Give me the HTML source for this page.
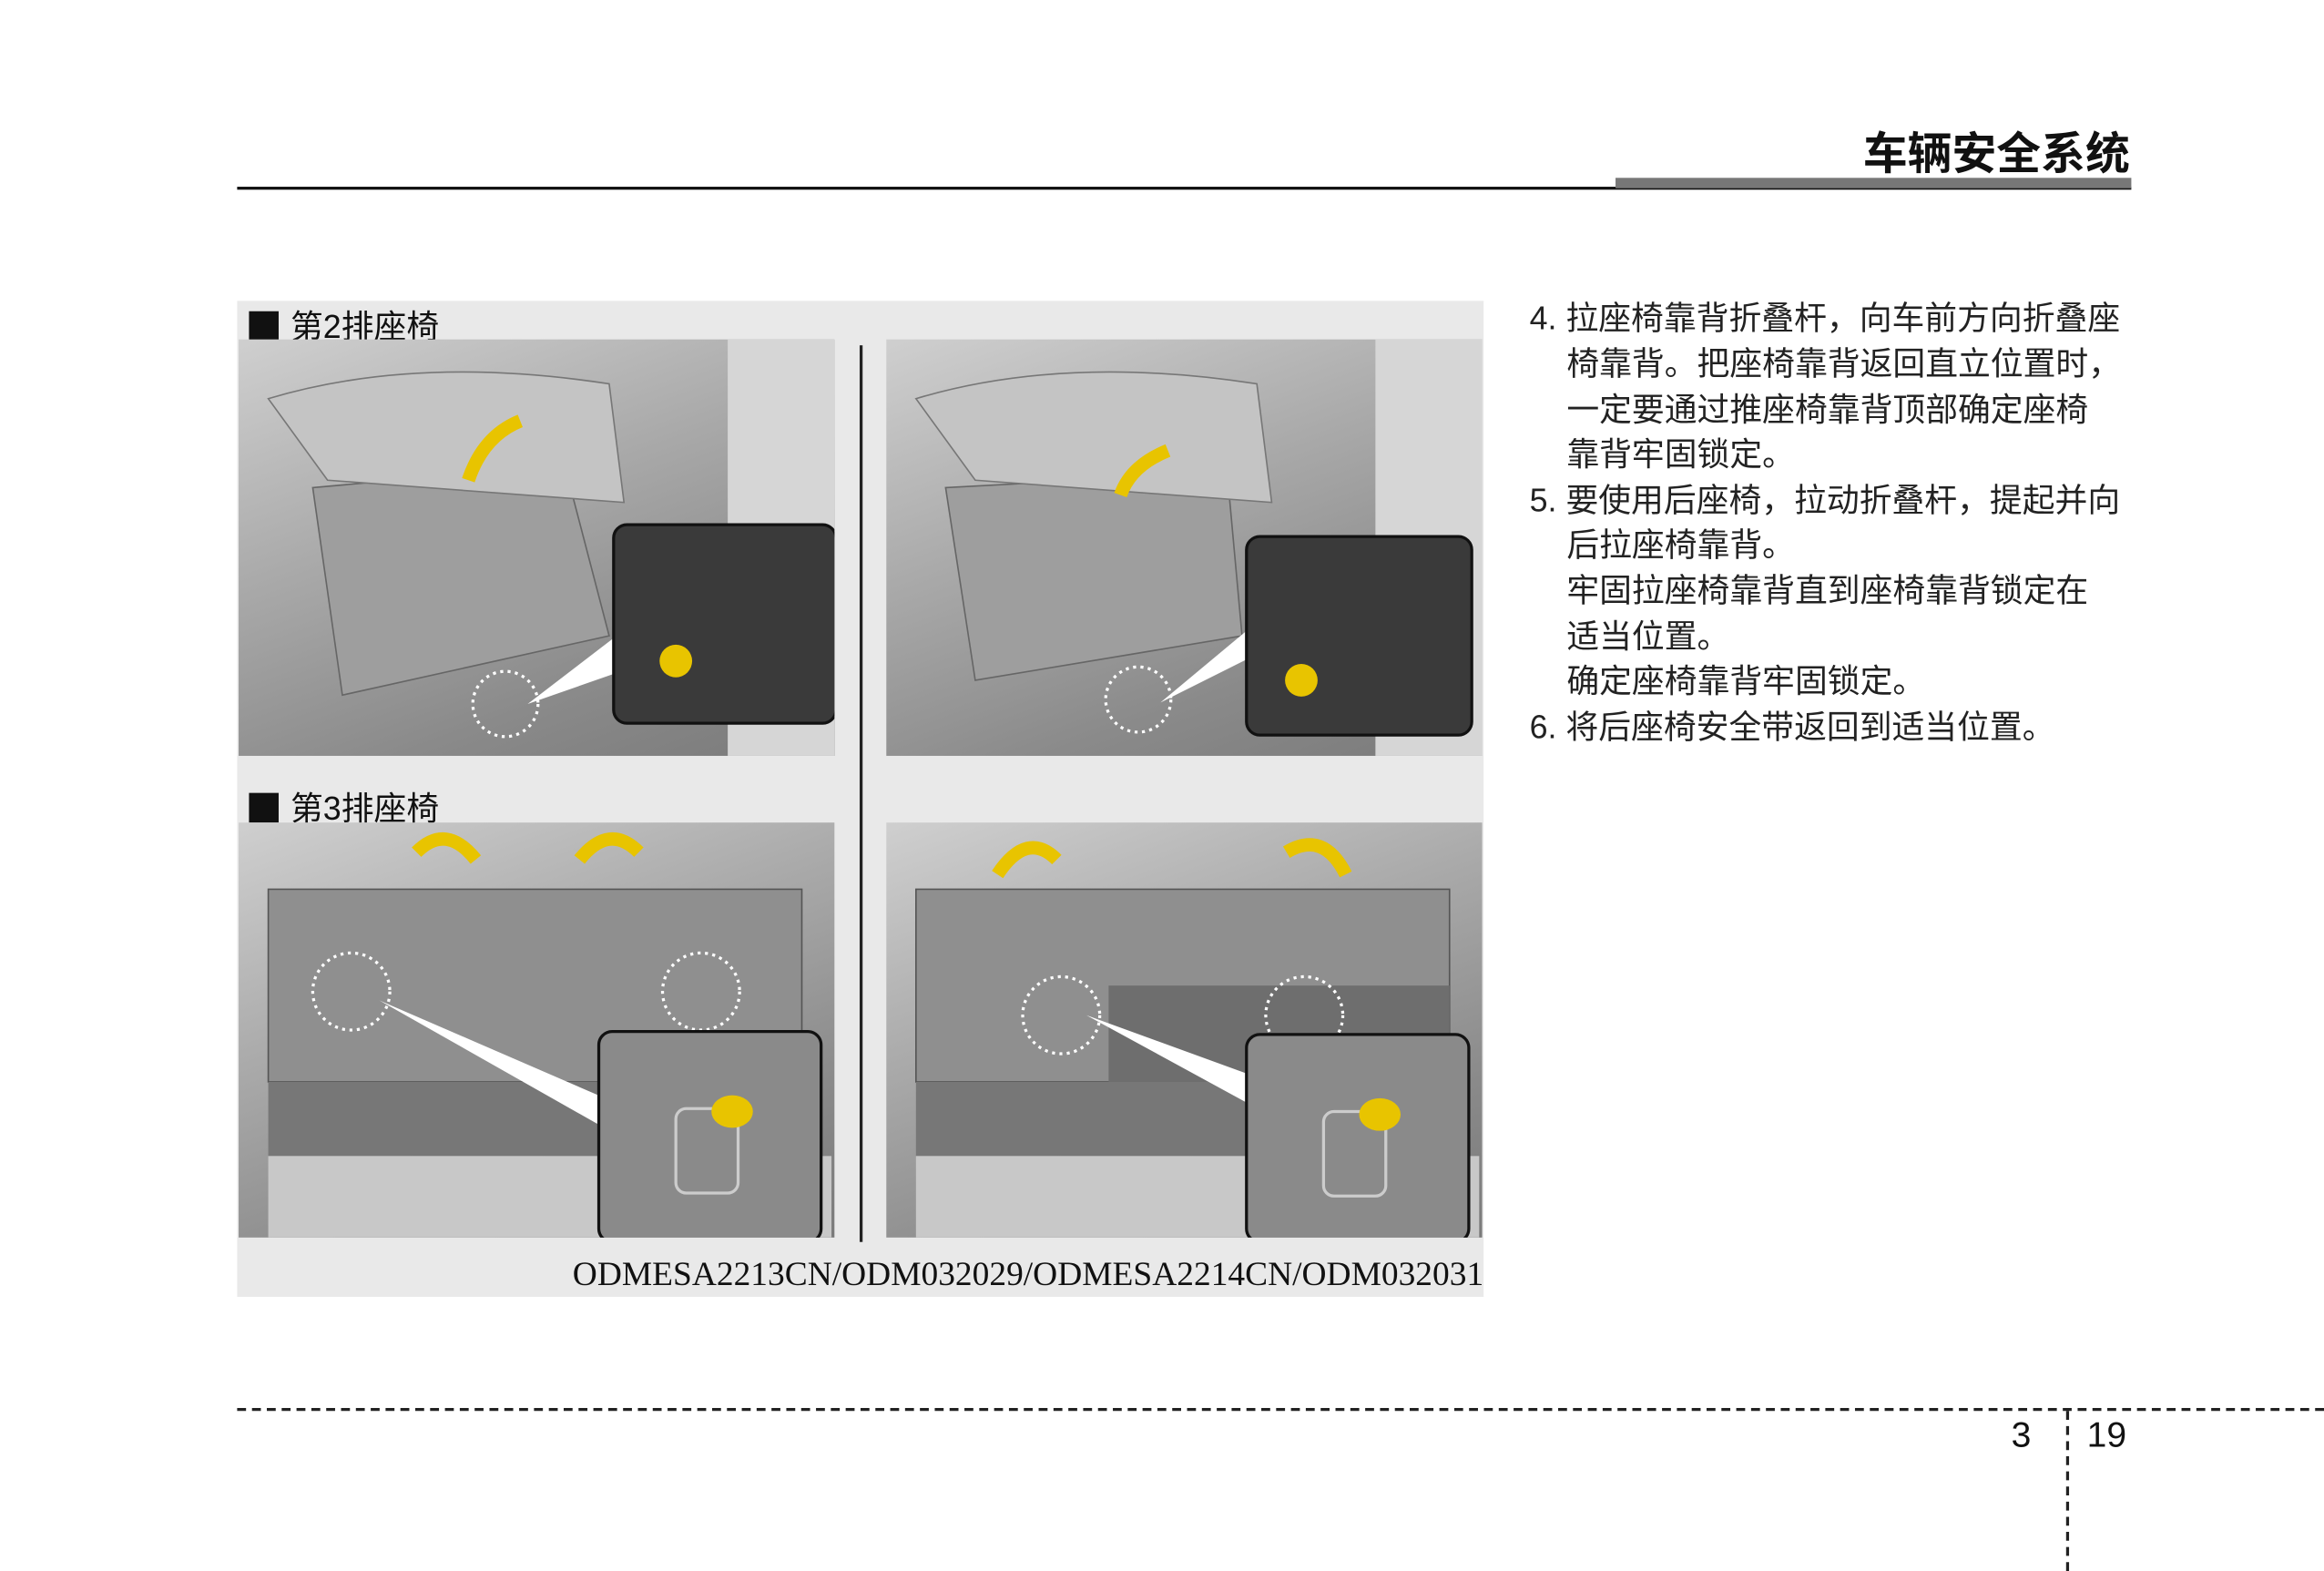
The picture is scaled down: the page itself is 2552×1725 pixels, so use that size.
<!DOCTYPE html>
<html><head><meta charset="utf-8">
<style>
html,body{margin:0;padding:0;background:#fff;width:2552px;height:1725px;overflow:hidden}
#w{position:absolute;left:0;top:0;width:1568px;height:1060px;transform:scale(1.62755,1.62736);transform-origin:0 0;font-family:"Liberation Sans","Noto Sans CJK SC",sans-serif;color:#222}
.a{position:absolute}
.t{position:absolute;left:1032px;font-size:22px;line-height:30.6px;white-space:nowrap;color:#222}
.ph{position:absolute;background:linear-gradient(160deg,#cfcfcf 0%,#a9a9a9 40%,#8a8a8a 75%,#7a7a7a 100%);overflow:hidden}
.ins{position:absolute;background:#3a3a3a;border:2px solid #111;border-radius:10px}
.lab{position:absolute;left:168px;font-size:22px;color:#111;white-space:nowrap}
.sq{display:inline-block;width:20px;height:20px;background:#111;margin-right:8px;vertical-align:-2px}
</style></head><body><div id="w">
<div class="a" style="right:131px;top:79px;font-size:30px;font-weight:bold;color:#111">车辆安全系统</div>
<div class="a" style="left:160px;top:126px;width:1278px;height:2px;background:#111"></div>
<div class="a" style="left:1090px;top:120px;width:348px;height:7px;background:#777"></div>

<div class="a" style="left:160px;top:203px;width:841px;height:672px;background:#e9e9e9"></div>
<div class="lab" style="top:203px"><span class="sq"></span>第2排座椅</div>
<div class="lab" style="top:528px"><span class="sq"></span>第3排座椅</div>
<div class="a" style="left:580px;top:233px;width:2px;height:605px;background:#222"></div>

<!-- top-left -->
<div class="ph" style="left:161px;top:229px;width:402px;height:281px">
 <svg width="402" height="281" style="position:absolute;left:0;top:0">
  <path d="M50 100 L220 85 L250 200 L70 240 Z" fill="#9e9e9e" stroke="#666"/>
  <path d="M20 40 Q120 10 250 30 L260 110 L60 95 Z" fill="#c4c4c4" stroke="#777"/>
  <rect x="330" y="0" width="72" height="281" fill="#d6d6d6"/>
  <circle cx="180" cy="246" r="22" fill="none" stroke="#fff" stroke-width="2" stroke-dasharray="2 3"/>
  <path d="M155 95 Q165 65 190 55" fill="none" stroke="#e8c400" stroke-width="9"/>
  <polygon points="195,246 255,200 255,225" fill="#fff"/>
 </svg>
 <div class="ins" style="left:252px;top:124px;width:148px;height:132px"><div style="position:absolute;left:30px;top:80px;width:22px;height:22px;border-radius:50%;background:#e8c400"></div></div>
</div>
<!-- top-right -->
<div class="ph" style="left:598px;top:229px;width:402px;height:281px">
 <svg width="402" height="281" style="position:absolute;left:0;top:0">
  <path d="M40 100 L230 90 L240 200 L60 230 Z" fill="#9e9e9e" stroke="#666"/>
  <path d="M20 40 Q120 10 250 30 L260 110 L60 95 Z" fill="#c4c4c4" stroke="#777"/>
  <rect x="330" y="0" width="72" height="281" fill="#d6d6d6"/>
  <circle cx="170" cy="243" r="22" fill="none" stroke="#fff" stroke-width="2" stroke-dasharray="2 3"/>
  <path d="M158 105 Q165 85 190 75" fill="none" stroke="#e8c400" stroke-width="9"/>
  <polygon points="185,245 245,195 245,215" fill="#fff"/>
 </svg>
 <div class="ins" style="left:242px;top:132px;width:150px;height:132px"><div style="position:absolute;left:25px;top:85px;width:22px;height:22px;border-radius:50%;background:#e8c400"></div></div>
</div>
<!-- bottom-left -->
<div class="ph" style="left:161px;top:555px;width:402px;height:280px">
 <svg width="402" height="280" style="position:absolute;left:0;top:0">
  <rect x="20" y="45" width="360" height="130" fill="#8f8f8f" stroke="#555"/>
  <rect x="20" y="175" width="370" height="50" fill="#777"/>
  <rect x="20" y="225" width="380" height="55" fill="#c8c8c8"/>
  <circle cx="76" cy="114" r="26" fill="none" stroke="#fff" stroke-width="2" stroke-dasharray="2 3"/>
  <circle cx="312" cy="114" r="26" fill="none" stroke="#fff" stroke-width="2" stroke-dasharray="2 3"/>
  <path d="M120 20 Q140 0 160 25" fill="none" stroke="#e8c400" stroke-width="9"/>
  <path d="M230 25 Q250 0 270 20" fill="none" stroke="#e8c400" stroke-width="9"/>
  <polygon points="95,120 245,185 245,205" fill="#fff"/>
 </svg>
 <div class="ins" style="left:242px;top:140px;width:148px;height:140px;background:#8a8a8a"><div style="position:absolute;left:50px;top:50px;width:40px;height:55px;border:2px solid #ccc;border-radius:8px"></div><div style="position:absolute;left:75px;top:42px;width:28px;height:22px;border-radius:50%;background:#e8c400"></div></div>
</div>
<!-- bottom-right -->
<div class="ph" style="left:598px;top:555px;width:402px;height:280px">
 <svg width="402" height="280" style="position:absolute;left:0;top:0">
  <rect x="20" y="45" width="360" height="130" fill="#8f8f8f" stroke="#555"/>
  <rect x="150" y="110" width="230" height="70" fill="#6e6e6e"/>
  <rect x="20" y="175" width="370" height="50" fill="#777"/>
  <rect x="20" y="225" width="380" height="55" fill="#c8c8c8"/>
  <circle cx="118" cy="130" r="26" fill="none" stroke="#fff" stroke-width="2" stroke-dasharray="2 3"/>
  <circle cx="282" cy="130" r="26" fill="none" stroke="#fff" stroke-width="2" stroke-dasharray="2 3"/>
  <path d="M75 35 Q95 5 115 25" fill="none" stroke="#e8c400" stroke-width="9"/>
  <path d="M270 20 Q295 5 310 35" fill="none" stroke="#e8c400" stroke-width="9"/>
  <polygon points="135,130 245,170 245,190" fill="#fff"/>
 </svg>
 <div class="ins" style="left:242px;top:142px;width:148px;height:138px;background:#8a8a8a"><div style="position:absolute;left:50px;top:50px;width:40px;height:55px;border:2px solid #ccc;border-radius:8px"></div><div style="position:absolute;left:75px;top:42px;width:28px;height:22px;border-radius:50%;background:#e8c400"></div></div>
</div>
<div class="a" style="right:567px;top:847px;font-size:23px;font-family:'Liberation Serif',serif;color:#111;white-space:nowrap">ODMESA2213CN/ODM032029/ODMESA2214CN/ODM032031</div>

<div class="t" style="top:200px">4. 拉座椅靠背折叠杆，向车前方向折叠座</div>
<div class="t" style="top:231px;left:1057px">椅靠背。把座椅靠背返回直立位置时，</div>
<div class="t" style="top:262px;left:1057px">一定要通过推座椅靠背顶部确定座椅</div>
<div class="t" style="top:292px;left:1057px">靠背牢固锁定。</div>
<div class="t" style="top:323px">5. 要使用后座椅，拉动折叠杆，提起并向</div>
<div class="t" style="top:353px;left:1057px">后拉座椅靠背。</div>
<div class="t" style="top:384px;left:1057px">牢固拉座椅靠背直到座椅靠背锁定在</div>
<div class="t" style="top:415px;left:1057px">适当位置。</div>
<div class="t" style="top:445px;left:1057px">确定座椅靠背牢固锁定。</div>
<div class="t" style="top:476px">6. 将后座椅安全带返回到适当位置。</div>

<div class="a" style="left:160px;top:950px;width:1408px;border-top:2px dashed #222"></div>
<div class="a" style="left:1394px;top:952px;height:108px;border-left:2px dashed #222"></div>
<div class="a" style="left:1357px;top:955px;font-size:24px;color:#111">3</div>
<div class="a" style="left:1408px;top:955px;font-size:24px;color:#111">19</div>
</div></body></html>
